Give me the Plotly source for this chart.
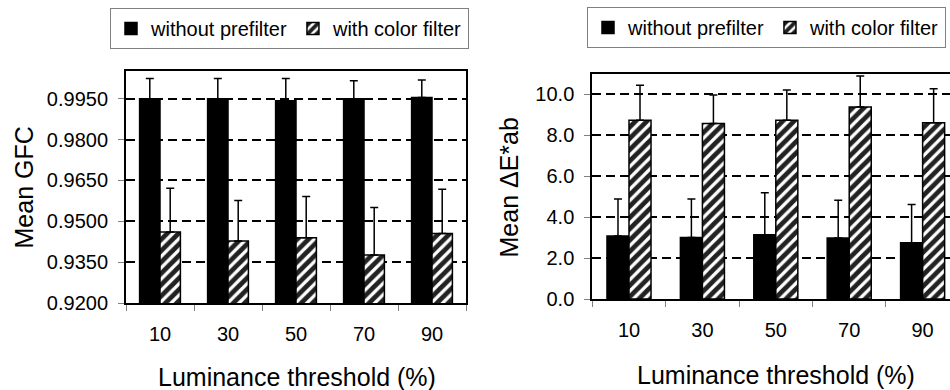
import plotly.graph_objects as go

categories = ["10", "30", "50", "70", "90"]

# Left chart: Mean GFC
gfc_without = [0.9950, 0.9950, 0.9943, 0.9950, 0.9955]
gfc_without_err = [0.0074, 0.0074, 0.0081, 0.0066, 0.0064]
gfc_color = [0.9461, 0.9428, 0.9440, 0.9376, 0.9455]
gfc_color_err = [0.0160, 0.0148, 0.0151, 0.0175, 0.0163]
gfc_ticks = [0.9200, 0.9350, 0.9500, 0.9650, 0.9800, 0.9950]

# Right chart: Mean Delta E*ab
de_without = [3.08, 3.01, 3.14, 2.98, 2.75]
de_without_err = [1.80, 1.87, 2.05, 1.84, 1.86]
de_color = [8.73, 8.57, 8.73, 9.38, 8.61]
de_color_err = [1.71, 1.40, 1.48, 1.51, 1.66]
de_ticks = [0.0, 2.0, 4.0, 6.0, 8.0, 10.0]

FONT = "Liberation Sans, Arial, sans-serif"
W, H = 950, 390


def err(vals):
    return dict(type="data", array=vals, arrayminus=[0] * len(vals), symmetric=False,
                color="black", thickness=1.5, width=4)


hatch = dict(shape="/", fgcolor="#222222", bgcolor="white", size=8, solidity=0.6)

fig = go.Figure()

fig.add_trace(go.Bar(x=categories, y=gfc_without, name="without prefilter",
                     marker=dict(color="black", line=dict(color="black", width=1.5)),
                     error_y=err(gfc_without_err), xaxis="x", yaxis="y", legend="legend"))
fig.add_trace(go.Bar(x=categories, y=gfc_color, name="with color filter",
                     marker=dict(color="white", line=dict(color="black", width=1.5), pattern=hatch),
                     error_y=err(gfc_color_err), xaxis="x", yaxis="y", legend="legend"))

fig.add_trace(go.Bar(x=categories, y=de_without, name="without prefilter",
                     marker=dict(color="black", line=dict(color="black", width=1.5)),
                     error_y=err(de_without_err), xaxis="x2", yaxis="y2", legend="legend2"))
fig.add_trace(go.Bar(x=categories, y=de_color, name="with color filter",
                     marker=dict(color="white", line=dict(color="black", width=1.5), pattern=hatch),
                     error_y=err(de_color_err), xaxis="x2", yaxis="y2", legend="legend2"))

common_x = dict(type="category", tickson="boundaries", ticks="outside", ticklen=6,
                tickcolor="#808080", tickwidth=1, showline=True, linecolor="black",
                linewidth=2, showgrid=False, zeroline=False, automargin=False,
                tickfont=dict(family=FONT, size=20, color="black"), ticklabelstandoff=12)
common_y = dict(ticks="outside", ticklen=6, tickcolor="#808080", tickwidth=1,
                showline=True, linecolor="black", linewidth=2, showgrid=True,
                gridcolor="black", gridwidth=1.5, griddash="9px,5px", zeroline=False,
                automargin=False,
                tickfont=dict(family=FONT, size=20, color="black"), ticklabelstandoff=6)

legend_common = dict(orientation="h", yanchor="top",
                     bordercolor="#808080", borderwidth=1, bgcolor="white",
                     font=dict(family=FONT, size=20, color="black"), itemwidth=30,
                     traceorder="normal")

title_font = dict(family=FONT, size=25, color="black")

fig.update_layout(
    template="none",
    width=W, height=H, margin=dict(l=0, r=0, t=0, b=0, autoexpand=False),
    paper_bgcolor="white", plot_bgcolor="white",
    barmode="group", bargap=0.4, bargroupgap=0,
    font=dict(family=FONT, color="black"),
    xaxis=dict(common_x, domain=[126 / W, 466 / W], range=[-0.5, 4.5], anchor="y", mirror=True),
    yaxis=dict(common_y, domain=[1 - 303 / H, 1 - 71 / H], range=[0.92, 1.0052],
               tickvals=gfc_ticks, tickformat=".4f", anchor="x", mirror=True),
    xaxis2=dict(common_x, domain=[592.3 / W, 1.0], range=[-0.5, 4.373], anchor="y2", mirror=True),
    yaxis2=dict(common_y, domain=[1 - 299 / H, 1 - 74 / H], range=[0, 10.99],
                tickvals=de_ticks, tickformat=".1f", anchor="x2"),
    legend=dict(legend_common, x=289.5 / W, xanchor="center", y=1 - 8 / H),
    legend2=dict(legend_common, x=946 / W, xanchor="right", y=1 - 7 / H),
    annotations=[
        dict(text="Mean GFC", x=23 / W, y=1 - 187.5 / H, xref="paper", yref="paper",
             xanchor="center", yanchor="middle", textangle=-90, showarrow=False, font=title_font),
        dict(text="Mean ΔE*ab", x=508 / W, y=1 - 187.5 / H, xref="paper", yref="paper",
             xanchor="center", yanchor="middle", textangle=-90, showarrow=False, font=title_font),
        dict(text="Luminance threshold (%)", x=296.5 / W, y=1 - 377 / H, xref="paper",
             yref="paper", xanchor="center", yanchor="middle", showarrow=False, font=title_font),
        dict(text="Luminance threshold (%)", x=776.3 / W, y=1 - 375 / H, xref="paper",
             yref="paper", xanchor="center", yanchor="middle", showarrow=False, font=title_font),
    ],
)

fig.write_html("out.html")
